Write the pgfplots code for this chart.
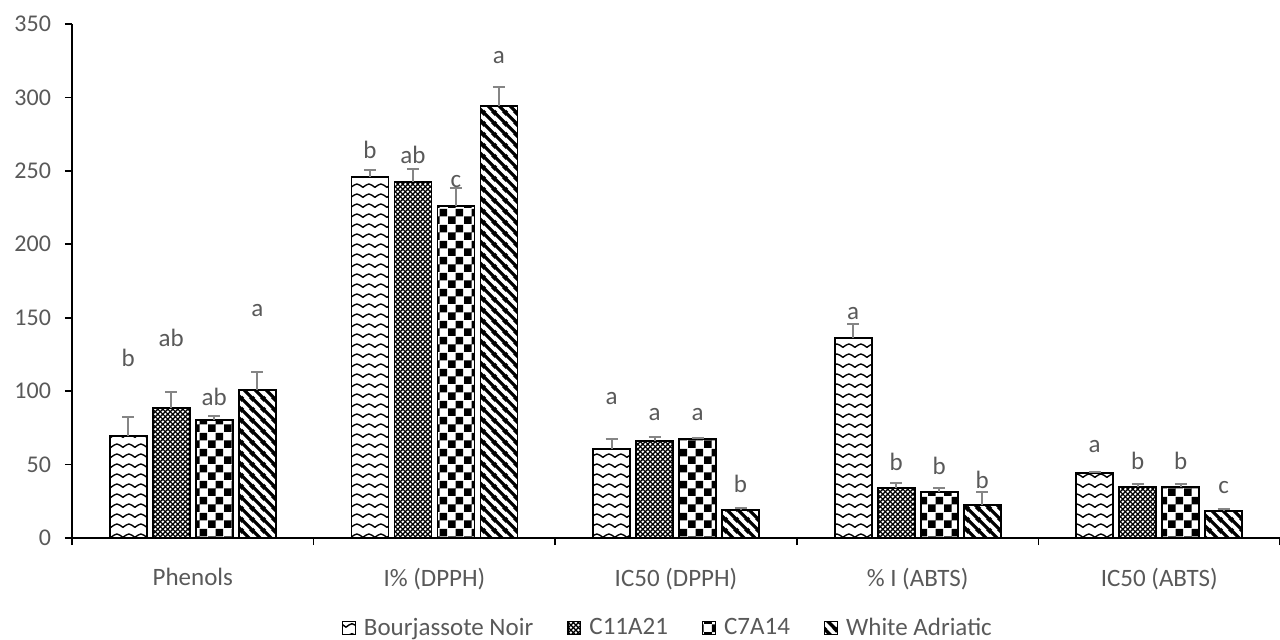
\documentclass[border=0pt]{standalone}
\usepackage{fontspec}
\setmainfont{Carlito}
\usepackage{pgfplots}
\pgfplotsset{compat=1.18}
\usetikzlibrary{patterns}
\definecolor{txtgray}{HTML}{595959}
\definecolor{errgray}{HTML}{858585}

\pgfdeclarepatternformonly{wavy}{\pgfpointorigin}{\pgfpoint{6.2pt}{5pt}}{\pgfpoint{6.2pt}{5pt}}{
  \pgfsetlinewidth{0.75pt}
  \pgfpathmoveto{\pgfpoint{-1pt}{1.0pt}}
  \pgfpathlineto{\pgfpoint{0pt}{1.5pt}}
  \pgfpathcurveto{\pgfpoint{1.1pt}{2.2pt}}{\pgfpoint{2.1pt}{3.3pt}}{\pgfpoint{3.1pt}{3.3pt}}
  \pgfpathcurveto{\pgfpoint{4.1pt}{3.3pt}}{\pgfpoint{5.1pt}{2.2pt}}{\pgfpoint{6.2pt}{1.5pt}}
  \pgfpathlineto{\pgfpoint{7.2pt}{1.0pt}}
  \pgfusepath{stroke}}

\pgfdeclarepatternformonly{checker}{\pgfpointorigin}{\pgfpoint{8pt}{8pt}}{\pgfpoint{8pt}{8pt}}{
  \pgfpathrectangle{\pgfpointorigin}{\pgfpoint{4pt}{4pt}}
  \pgfpathrectangle{\pgfpoint{4pt}{4pt}}{\pgfpoint{4pt}{4pt}}
  \pgfusepath{fill}}

\pgfdeclarepatternformonly{thickstripes}{\pgfpointorigin}{\pgfpoint{5.5pt}{5.5pt}}{\pgfpoint{5.5pt}{5.5pt}}{
  \pgfsetlinewidth{1.8pt}
  \pgfpathmoveto{\pgfpoint{-2.75pt}{2.75pt}}\pgfpathlineto{\pgfpoint{2.75pt}{-2.75pt}}
  \pgfpathmoveto{\pgfpoint{-0.5pt}{6pt}}\pgfpathlineto{\pgfpoint{6pt}{-0.5pt}}
  \pgfpathmoveto{\pgfpoint{2.75pt}{8.25pt}}\pgfpathlineto{\pgfpoint{8.25pt}{2.75pt}}
  \pgfusepath{stroke}}

\pgfdeclarepatternformonly{finehatch}{\pgfpointorigin}{\pgfpoint{2.4pt}{2.4pt}}{\pgfpoint{2.4pt}{2.4pt}}{
  \pgfsetlinewidth{0.6pt}
  \pgfpathmoveto{\pgfpoint{-1.2pt}{1.2pt}}\pgfpathlineto{\pgfpoint{1.2pt}{-1.2pt}}
  \pgfpathmoveto{\pgfpoint{-0.2pt}{2.6pt}}\pgfpathlineto{\pgfpoint{2.6pt}{-0.2pt}}
  \pgfpathmoveto{\pgfpoint{1.2pt}{3.6pt}}\pgfpathlineto{\pgfpoint{3.6pt}{1.2pt}}
  \pgfpathmoveto{\pgfpoint{-1.2pt}{1.2pt}}\pgfpathlineto{\pgfpoint{1.2pt}{3.6pt}}
  \pgfpathmoveto{\pgfpoint{-0.2pt}{-0.2pt}}\pgfpathlineto{\pgfpoint{2.6pt}{2.6pt}}
  \pgfpathmoveto{\pgfpoint{1.2pt}{-1.2pt}}\pgfpathlineto{\pgfpoint{3.6pt}{1.2pt}}
  \pgfusepath{stroke}}

\newcommand{\lblfont}{\fontsize{12}{14}\selectfont}
\newcommand{\catfont}{\fontsize{12.5}{15}\selectfont}

\begin{document}
\begin{tikzpicture}
\path[use as bounding box] (0,0) rectangle (640pt,319.5pt);
\begin{axis}[
  at={(36pt,50.5pt)}, anchor=south west,
  scale only axis, width=604pt, height=257pt,
  xmin=-0.5, xmax=4.5, ymin=0, ymax=350,
  ybar=3pt, bar width=18.5pt,
  axis x line*=bottom, axis y line*=left,
  xtick={-0.5,0.5,1.5,2.5,3.5,4.5},
  x tick label as interval,
  xticklabels={Phenols, I\% (DPPH), IC50 (DPPH), \% I (ABTS), IC50 (ABTS)},
  ytick={0,50,...,350},
  tick align=outside,
  major tick length=3.5pt,
  tick style={black, line width=0.8pt},
  axis line style={black, line width=0.8pt},
  /pgf/number format/assume math mode=true,
  yticklabel style={font=\lblfont, text=txtgray, xshift=-3.5pt},
  xticklabel style={font=\catfont, text=txtgray, yshift=-8pt},
  legend style={at={(axis description cs:0.494,-0.175)}, anchor=center, draw=none,
    legend columns=-1, font=\catfont, text=txtgray,
    /tikz/every odd column/.append style={column sep=2pt},
    /tikz/every even column/.append style={column sep=15pt}},
  legend image code/.code={\draw[#1, line width=0.7pt] (0pt,-3.2pt) rectangle (6.4pt,3.2pt);},
  every axis plot/.append style={draw=black, line width=0.9pt,
    error bars/y dir=plus, error bars/y explicit,
    error bars/error bar style={errgray, line width=1pt},
    error bars/error mark options={errgray, line width=1pt, mark size=3pt, rotate=90}},
]
\addplot[pattern=wavy] coordinates {
  (0,69.7) +- (0,13) (1,246) +- (0,4.6) (2,60.6) +- (0,6.6) (3,136) +- (0,10) (4,44.5) +- (0,0.7)};
\addplot[pattern=finehatch] coordinates {
  (0,88.5) +- (0,11) (1,242.6) +- (0,9) (2,66.3) +- (0,2.3) (3,33.8) +- (0,3.4) (4,35) +- (0,1.5)};
\addplot[pattern=checker] coordinates {
  (0,80.3) +- (0,3) (1,226) +- (0,12) (2,67.2) +- (0,1.1) (3,31.5) +- (0,2.8) (4,35) +- (0,1.5)};
\addplot[pattern=thickstripes] coordinates {
  (0,100.8) +- (0,12.5) (1,294.2) +- (0,13) (2,19) +- (0,1.2) (3,22.5) +- (0,9) (4,18.4) +- (0,1.1)};
\legend{Bourjassote Noir, C11A21, C7A14, White Adriatic}

\begin{scope}[every node/.style={font=\catfont, text=txtgray}]
\node at (axis cs:-0.267,122.6) {b};
\node at (axis cs:-0.089,136.2) {ab};
\node at (axis cs:0.089,96) {ab};
\node at (axis cs:0.267,154.6) {a};
\node at (axis cs:0.733,264) {b};
\node at (axis cs:0.911,261) {ab};
\node at (axis cs:1.089,243) {c};
\node at (axis cs:1.267,327) {a};
\node at (axis cs:1.733,95.3) {a};
\node at (axis cs:1.911,84.4) {a};
\node at (axis cs:2.089,84.4) {a};
\node at (axis cs:2.267,36.8) {b};
\node at (axis cs:2.733,153.2) {a};
\node at (axis cs:2.911,51.7) {b};
\node at (axis cs:3.089,49) {b};
\node at (axis cs:3.267,39.5) {b};
\node at (axis cs:3.733,62) {a};
\node at (axis cs:3.911,52.4) {b};
\node at (axis cs:4.089,52.4) {b};
\node at (axis cs:4.267,34.7) {c};
\end{scope}
\end{axis}
\end{tikzpicture}
\end{document}
